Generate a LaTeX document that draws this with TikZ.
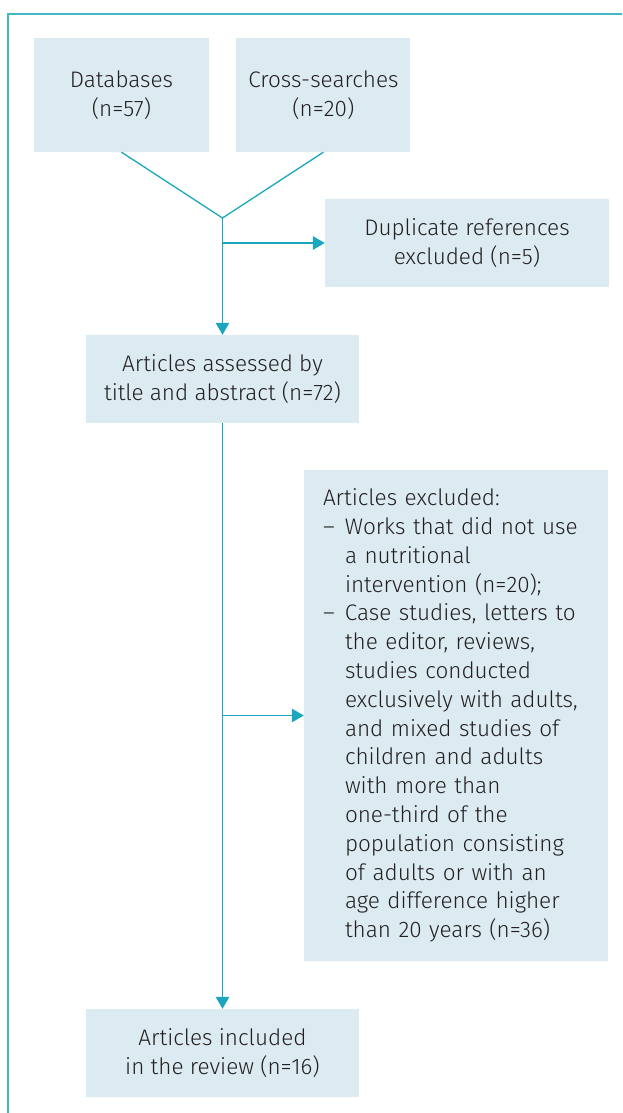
\documentclass[tikz,border=0pt]{standalone}
\usepackage{fontspec}
\setmainfont{Fira Sans}[UprightFont=* Light]
\usetikzlibrary{arrows.meta, positioning}
\definecolor{boxfill}{RGB}{220, 235, 242}
\definecolor{flowline}{RGB}{26, 166, 191}
\definecolor{framecol}{RGB}{64, 184, 198}
\definecolor{textdark}{RGB}{35, 31, 32}
\newcommand{\exdash}{\makebox[22pt][l]{--}}
\newcommand{\exgap}{\hspace*{22pt}}

\begin{document}
\begin{tikzpicture}[
    x=1pt, y=-1pt,
    node distance=27pt,
    box/.style={rectangle, fill=boxfill, inner sep=0pt, align=center, text=textdark, font=\fontsize{22.5pt}{28.8pt}\selectfont},
    line/.style={draw=flowline, line width=1.3pt},
    arrow/.style={-{Triangle[length=12pt, width=13.5pt]}, line width=1.3pt, draw=flowline, fill=flowline}
]
    \useasboundingbox (0,0) rectangle (622,1113);
    \draw[framecol, line width=1.4pt] (8,1113) -- (8,14) -- (622,14);

    \node[box, minimum width=175pt, minimum height=114pt] (db) at (121.5,95) {Databases\\(n=57)};
    \node[box, minimum width=174pt, minimum height=114pt, right=of db] (cs) {Cross-searches\\(n=20)};
    \coordinate (split) at (222.5,218);
    \node[box, minimum width=284pt, minimum height=88pt] (dup) at (467,243) {Duplicate references\\excluded (n=5)};
    \node[box, minimum width=273pt, minimum height=88pt] (assess) at (222.5,379) {Articles assessed by\\title and abstract (n=72)};
    \node[box, minimum width=304pt, minimum height=491pt, align=left, text width=266pt, inner xsep=19pt] (excl) at (456,715.5) {Articles excluded:\\
        \exdash Works that did not use\\
        \exgap a nutritional\\
        \exgap intervention (n=20);\\
        \exdash Case studies, letters to\\
        \exgap the editor, reviews,\\
        \exgap studies conducted\\
        \exgap exclusively with adults,\\
        \exgap and mixed studies of\\
        \exgap children and adults\\
        \exgap with more than\\
        \exgap one-third of the\\
        \exgap population consisting\\
        \exgap of adults or with an\\
        \exgap age difference higher\\
        \exgap than 20 years (n=36)};
    \node[box, minimum width=273pt, minimum height=88pt] (incl) at (222.5,1053) {Articles included\\in the review (n=16)};

    \draw[line] (db.south) -- (split);
    \draw[line] (cs.south) -- (split);
    \draw[arrow] (split) -- (assess.north);
    \draw[arrow] (split |- dup.west) -- (dup.west);
    \draw[arrow] (assess.south) -- (incl.north);
    \draw[arrow] (assess.south |- excl.west) -- (excl.west);
\end{tikzpicture}
\end{document}
